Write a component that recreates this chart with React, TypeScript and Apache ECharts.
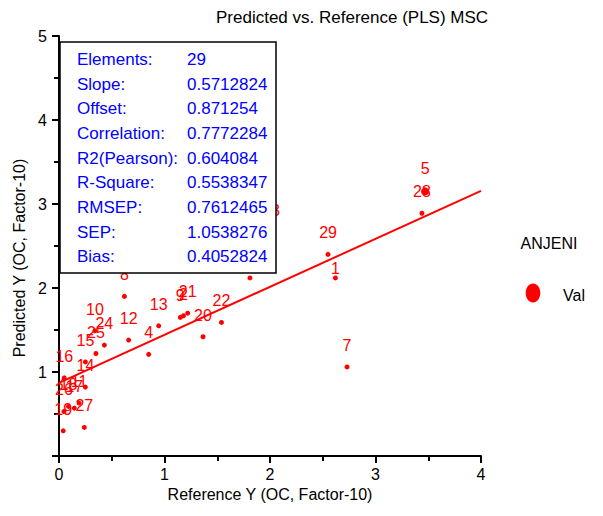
import React, { useEffect, useRef } from "react";
import * as echarts from "echarts";

// Sample numbers, reference values (x) and PLS predicted values (y)
const sampleIds = [
  1, 2, 3, 4, 5, 6, 7, 8, 9, 10, 11, 12, 13, 14, 15, 16, 17, 18, 19, 20, 21, 22, 23, 24, 25, 26, 27, 28, 29,
];
const referenceY = [
  2.62, 1.18, 0.46, 0.85, 3.47, 1.81, 2.73, 0.62, 1.15, 0.34, 0.19, 0.66, 0.945, 0.25, 0.25, 0.05, 0.145, 0.09,
  0.04, 1.365, 1.22, 1.54, 2.01, 0.43, 0.35, 0.047, 0.24, 3.44, 2.55,
];
const predictedY = [
  2.12, 1.67, 2.5, 1.21, 3.15, 2.12, 1.06, 1.9, 1.65, 1.49, 0.63, 1.38, 1.55, 0.82, 1.12, 0.93, 0.57, 0.59, 0.3,
  1.42, 1.7, 1.59, 2.67, 1.32, 1.22, 0.53, 0.34, 2.89, 2.4,
];

// Regression statistics
const statLabels = [
  "Elements:",
  "Slope:",
  "Offset:",
  "Correlation:",
  "R2(Pearson):",
  "R-Square:",
  "RMSEP:",
  "SEP:",
  "Bias:",
];
const statValues = ["29", "0.5712824", "0.871254", "0.7772284", "0.604084", "0.5538347", "0.7612465", "1.0538276", "0.4052824"];
const slope = 0.5712824;
const offset = 0.871254;

const xTicks = { min: 0, max: 4, interval: 1 };
const yTicks = { min: 0, max: 5, interval: 1 };

const FONT = '"Liberation Sans", Arial, Helvetica, sans-serif';
const RED = "#ff0000";
const BLUE = "#0000ff";

// Per-sample label tweaks to keep crowded labels readable
const labelNudge: Record<string, number[]> = { "1": [0, 12] };
const largeMarks = new Set(["5"]);

export default function App() {
  const ref = useRef<HTMLDivElement>(null);

  useEffect(() => {
    if (!ref.current) return;
    const chart = echarts.init(ref.current, undefined, { renderer: "svg" });

    const points = sampleIds.map((id, i) => {
      const name = String(id);
      const item: any = { name, value: [referenceY[i], predictedY[i]] };
      if (largeMarks.has(name)) item.symbolSize = 8;
      if (labelNudge[name]) item.label = { offset: labelNudge[name] };
      return item;
    });

    const fitLine = [xTicks.min, xTicks.max].map((x) => [x, offset + slope * x]);

    const boxX = 60;
    const boxY = 42;
    const rowY0 = 59.5;
    const rowStep = 24.65;

    const statTexts: any[] = [];
    statLabels.forEach((label, i) => {
      statTexts.push({
        type: "text",
        x: 77,
        y: rowY0 + i * rowStep,
        z: 101,
        style: { text: label, fill: BLUE, font: `17px ${FONT}`, verticalAlign: "middle", textVerticalAlign: "middle" },
      });
      statTexts.push({
        type: "text",
        x: 187,
        y: rowY0 + i * rowStep,
        z: 101,
        style: {
          text: statValues[i],
          fill: BLUE,
          font: `17px ${FONT}`,
          verticalAlign: "middle",
          textVerticalAlign: "middle",
        },
      });
    });

    const axisCommon = {
      type: "value" as const,
      nameLocation: "middle" as const,
      axisLine: { show: true, onZero: false, lineStyle: { color: "#000", width: 2 } },
      axisTick: { show: true, inside: false, length: 7, lineStyle: { color: "#000", width: 2 } },
      minorTick: { show: true, splitNumber: 2, length: 5, lineStyle: { color: "#000", width: 2 } },
      splitLine: { show: false },
      minorSplitLine: { show: false },
    };

    chart.setOption({
      animation: false,
      backgroundColor: "#fff",
      title: {
        text: "Predicted vs. Reference (PLS) MSC",
        left: 211,
        top: 4,
        textStyle: { fontSize: 17, fontWeight: "normal", color: "#000", fontFamily: FONT },
      },
      grid: { left: 59, right: 122, top: 36, bottom: 60 },
      xAxis: {
        ...axisCommon,
        ...xTicks,
        name: "Reference Y (OC, Factor-10)",
        nameGap: 24,
        nameTextStyle: { fontSize: 16, color: "#000", fontFamily: FONT },
        axisLabel: { fontSize: 16, color: "#000", fontFamily: FONT, margin: 10 },
      },
      yAxis: {
        ...axisCommon,
        ...yTicks,
        name: "Predicted Y (OC, Factor-10)",
        nameGap: 22,
        nameTextStyle: { fontSize: 16, color: "#000", fontFamily: FONT, padding: [0, 24, 0, 0] },
        axisLabel: {
          fontSize: 16,
          color: "#000",
          fontFamily: FONT,
          margin: 12,
          formatter: (v: number) => (v === 0 ? "" : String(v)),
        },
      },
      series: [
        {
          type: "scatter",
          name: "Val",
          data: points,
          symbol: "circle",
          symbolSize: 5,
          itemStyle: { color: RED, opacity: 1 },
          z: 3,
          label: {
            show: true,
            position: "top",
            distance: 11,
            formatter: "{b}",
            color: RED,
            opacity: 1,
            fontSize: 16,
            fontFamily: FONT,
          },
        },
        {
          type: "line",
          name: "fit",
          data: fitLine,
          symbol: "none",
          silent: true,
          z: 2,
          lineStyle: { color: RED, width: 2 },
        },
      ],
      graphic: [
        {
          type: "rect",
          z: 100,
          shape: { x: boxX, y: boxY, width: 216, height: 231 },
          style: { fill: "#fff", stroke: "#000", lineWidth: 1.5 },
        },
        ...statTexts,
        {
          type: "text",
          x: 549,
          y: 243,
          style: {
            text: "ANJENI",
            fill: "#000",
            font: `16px ${FONT}`,
            align: "center",
            textAlign: "center",
            verticalAlign: "middle",
            textVerticalAlign: "middle",
          },
        },
        {
          type: "ellipse",
          shape: { cx: 533, cy: 293, rx: 7.3, ry: 9.5 },
          style: { fill: RED },
        },
        {
          type: "text",
          x: 563,
          y: 295,
          style: { text: "Val", fill: "#000", font: `16px ${FONT}`, verticalAlign: "middle", textVerticalAlign: "middle" },
        },
      ],
    });

    return () => chart.dispose();
  }, []);

  return <div ref={ref} style={{ position: "fixed", left: 0, top: 0, width: 603, height: 516 }} />;
}
